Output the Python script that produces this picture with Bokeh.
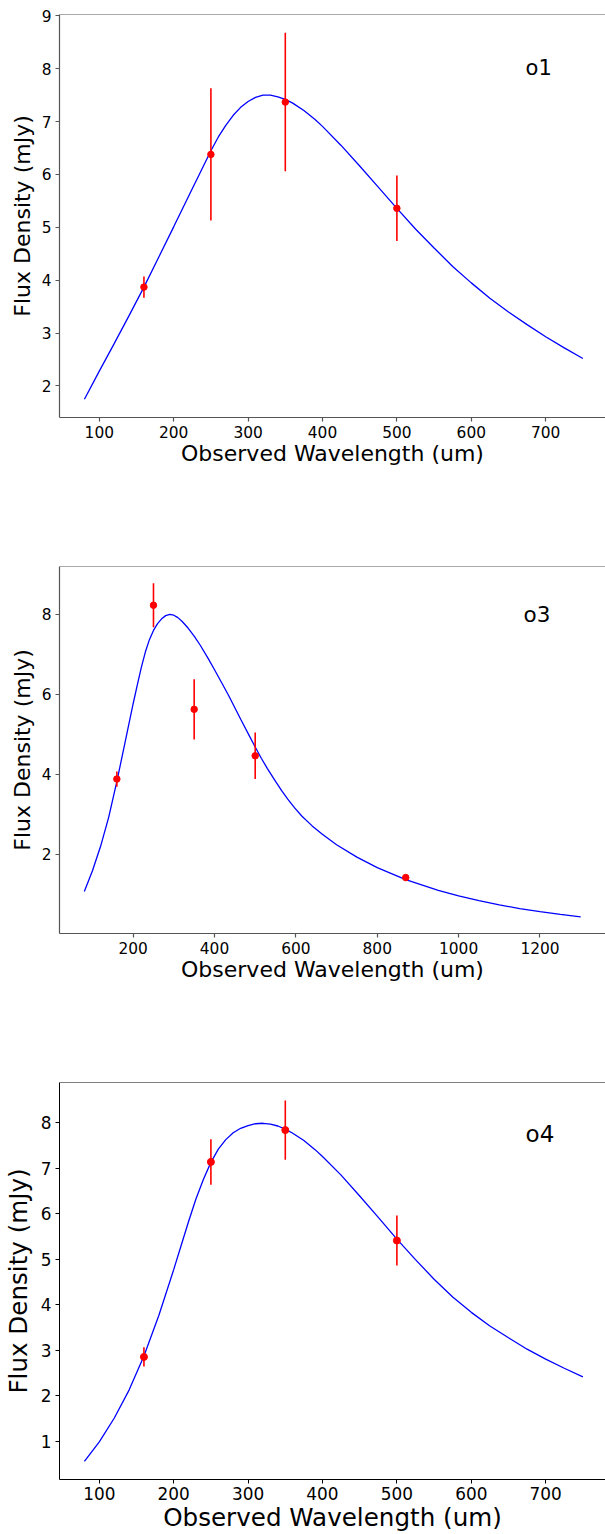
from bokeh.plotting import figure
from bokeh.layouts import column
from bokeh.models import FixedTicker, Span, Label, Range1d
from bokeh.embed import file_html
from bokeh.resources import INLINE

FONT = "DejaVu Sans"

# ---------------- o1 ----------------
o1_wave = [160, 250, 350, 500]
o1_flux = [3.87, 6.38, 7.37, 5.36]
o1_err = [0.20, 1.25, 1.31, 0.62]
o1_fit_wave = [80, 100, 120, 140, 160, 180, 200, 220, 240, 250, 260, 270, 280, 290, 300,
               310, 320, 330, 340, 350, 360, 375, 390, 400, 425, 450, 475, 500, 525, 550,
               575, 600, 625, 650, 675, 700, 725, 750]
o1_fit_flux = [1.75, 2.28, 2.80, 3.33, 3.87, 4.44, 5.01, 5.59, 6.16, 6.45, 6.71, 6.93, 7.12, 7.27, 7.38,
               7.46, 7.50, 7.50, 7.47, 7.42, 7.35, 7.21, 7.04, 6.91, 6.55, 6.16, 5.76, 5.36, 4.97, 4.61,
               4.26, 3.95, 3.66, 3.40, 3.16, 2.93, 2.72, 2.52]
o1_xticks = [100, 200, 300, 400, 500, 600, 700]
o1_yticks = [2, 3, 4, 5, 6, 7, 8, 9]

# ---------------- o3 ----------------
o3_wave = [160, 250, 350, 500, 870]
o3_flux = [3.88, 8.22, 5.62, 4.46, 1.42]
o3_err = [0.19, 0.55, 0.75, 0.58, 0.05]
o3_fit_wave = [80, 100, 120, 140, 160, 180, 200, 210, 220, 230, 240, 250, 260, 270, 280,
               290, 300, 310, 320, 335, 350, 365, 385, 400, 420, 435, 450, 465, 485, 500,
               515, 530, 550, 565, 580, 597, 615, 640, 665, 700, 750, 800, 870, 950, 1000,
               1050, 1100, 1150, 1200, 1250, 1300]
o3_fit_flux = [1.07, 1.59, 2.20, 2.93, 3.82, 4.79, 5.76, 6.22, 6.66, 7.05, 7.36, 7.59, 7.76, 7.88, 7.96,
               7.99, 7.97, 7.91, 7.82, 7.65, 7.45, 7.22, 6.88, 6.61, 6.24, 5.96, 5.66, 5.36, 4.97, 4.68,
               4.40, 4.14, 3.82, 3.59, 3.38, 3.16, 2.95, 2.71, 2.50, 2.24, 1.93, 1.67, 1.37, 1.10, 0.96,
               0.845, 0.74, 0.645, 0.57, 0.50, 0.44]
o3_xticks = [200, 400, 600, 800, 1000, 1200]
o3_yticks = [2, 4, 6, 8]

# ---------------- o4 ----------------
o4_wave = [160, 250, 350, 500]
o4_flux = [2.85, 7.14, 7.84, 5.41]
o4_err = [0.21, 0.50, 0.65, 0.55]
o4_fit_wave = [80, 100, 120, 140, 160, 180, 200, 210, 220, 230, 240, 250, 260, 270, 280,
               290, 300, 310, 320, 330, 340, 350, 360, 375, 390, 400, 425, 450, 475, 500,
               525, 550, 575, 600, 625, 650, 675, 700, 725, 750]
o4_fit_flux = [0.55, 0.98, 1.50, 2.12, 2.87, 3.76, 4.77, 5.30, 5.83, 6.33, 6.76, 7.13, 7.42, 7.63, 7.78,
               7.88, 7.94, 7.98, 7.99, 7.97, 7.93, 7.86, 7.77, 7.61, 7.41, 7.26, 6.85, 6.39, 5.92, 5.44,
               4.99, 4.56, 4.17, 3.83, 3.53, 3.27, 3.02, 2.80, 2.60, 2.41]
o4_xticks = [100, 200, 300, 400, 500, 600, 700]
o4_yticks = [1, 2, 3, 4, 5, 6, 7, 8]

XLABEL = "Observed Wavelength (um)"
YLABEL = "Flux Density (mJy)"


def limits(lo, hi, m=0.05):
    d = hi - lo
    return lo - m * d, hi + m * d


def panel(name, wave, flux, err, fit_w, fit_f, xticks, yticks, cfg):
    lo_err = [f - e for f, e in zip(flux, err)]
    hi_err = [f + e for f, e in zip(flux, err)]
    x0, x1m = limits(min(fit_w + wave), max(fit_w + wave))
    x1 = x0 + (x1m - x0) * cfg["xvis"]
    y0, y1 = limits(min(fit_f + lo_err), max(fit_f + hi_err))
    frame_h = cfg["height"] - cfg["btop"] - cfg["bbot"]

    p = figure(width=605, height=cfg["height"],
               x_range=Range1d(x0, x1), y_range=Range1d(y0, y1),
               output_backend="svg", toolbar_location=None,
               min_border_left=57, min_border_right=0,
               min_border_top=cfg["btop"], min_border_bottom=cfg["bbot"])
    p.outline_line_color = None
    p.xgrid.visible = False
    p.ygrid.visible = False
    p.background_fill_color = "white"
    p.border_fill_color = "white"

    p.line(fit_w, fit_f, line_color="#0000ff", line_width=1.3)
    p.segment(x0=wave, y0=lo_err, x1=wave, y1=hi_err, line_color="#ff0000", line_width=1.6)
    p.scatter(wave, flux, size=cfg["msize"], fill_color="#ff0000", line_color="#ff0000",
              marker="circle")

    sc, sw = cfg["spine"], cfg["spine_w"]
    p.add_layout(Span(location=y1, dimension="width", line_color=sc, line_width=sw))

    p.xaxis.ticker = FixedTicker(ticks=xticks)
    p.yaxis.ticker = FixedTicker(ticks=yticks)
    for ax in (p.xaxis[0], p.yaxis[0]):
        ax.axis_line_color = sc
        ax.axis_line_width = sw
        ax.major_tick_line_color = sc
        ax.major_tick_line_width = sw
        ax.major_tick_out = 4
        ax.major_tick_in = 0
        ax.minor_tick_line_color = None
        ax.major_label_text_font = FONT
        ax.major_label_text_font_size = cfg["tick_fs"]
        ax.major_label_text_color = "black"
        ax.axis_label_text_font = FONT
        ax.axis_label_text_font_size = cfg["label_fs"]
        ax.axis_label_text_font_style = "normal"
        ax.axis_label_text_color = "black"
    p.xaxis.major_label_standoff = cfg["xstand"]
    p.xaxis.axis_label = XLABEL
    p.xaxis.axis_label_standoff = 0
    p.yaxis.major_label_standoff = 4
    p.yaxis.axis_label = YLABEL
    p.yaxis.axis_label_standoff = cfg["ylstand"]

    # name label at 85% of the axes box, nudged up a few pixels
    ly = y0 + 0.85 * (y1 - y0) + cfg["name_up"] * (y1 - y0) / frame_h
    p.add_layout(Label(x=x0 + 0.85 * (x1m - x0), y=ly, text=name,
                       text_font=FONT, text_font_size=cfg["name_fs"],
                       text_align="left", text_baseline="alphabetic", text_color="black"))
    return p


p1 = panel("o1", o1_wave, o1_flux, o1_err, o1_fit_wave, o1_fit_flux, o1_xticks, o1_yticks,
           dict(height=560, btop=14, bbot=143, xvis=0.9958, msize=6.5, xstand=4, ylstand=4,
                name_up=7, spine="#555555", spine_w=1.2, tick_fs="15.4px", label_fs="22px",
                name_fs="21px"))
p2 = panel("o3", o3_wave, o3_flux, o3_err, o3_fit_wave, o3_fit_flux, o3_xticks, o3_yticks,
           dict(height=515, btop=6, bbot=142, xvis=1.0, msize=6.5, xstand=4, ylstand=4,
                name_up=7, spine="#555555", spine_w=1.2, tick_fs="15.4px", label_fs="22px",
                name_fs="21.5px"))
p3 = panel("o4", o4_wave, o4_flux, o4_err, o4_fit_wave, o4_fit_flux, o4_xticks, o4_yticks,
           dict(height=459, btop=7, bbot=54, xvis=0.9958, msize=7, xstand=3, ylstand=5,
                name_up=8, spine="black", spine_w=1.0, tick_fs="16.9px", label_fs="24.6px",
                name_fs="23px"))

layout = column(p1, p2, p3)
open("out.html", "w").write(file_html(layout, INLINE))
